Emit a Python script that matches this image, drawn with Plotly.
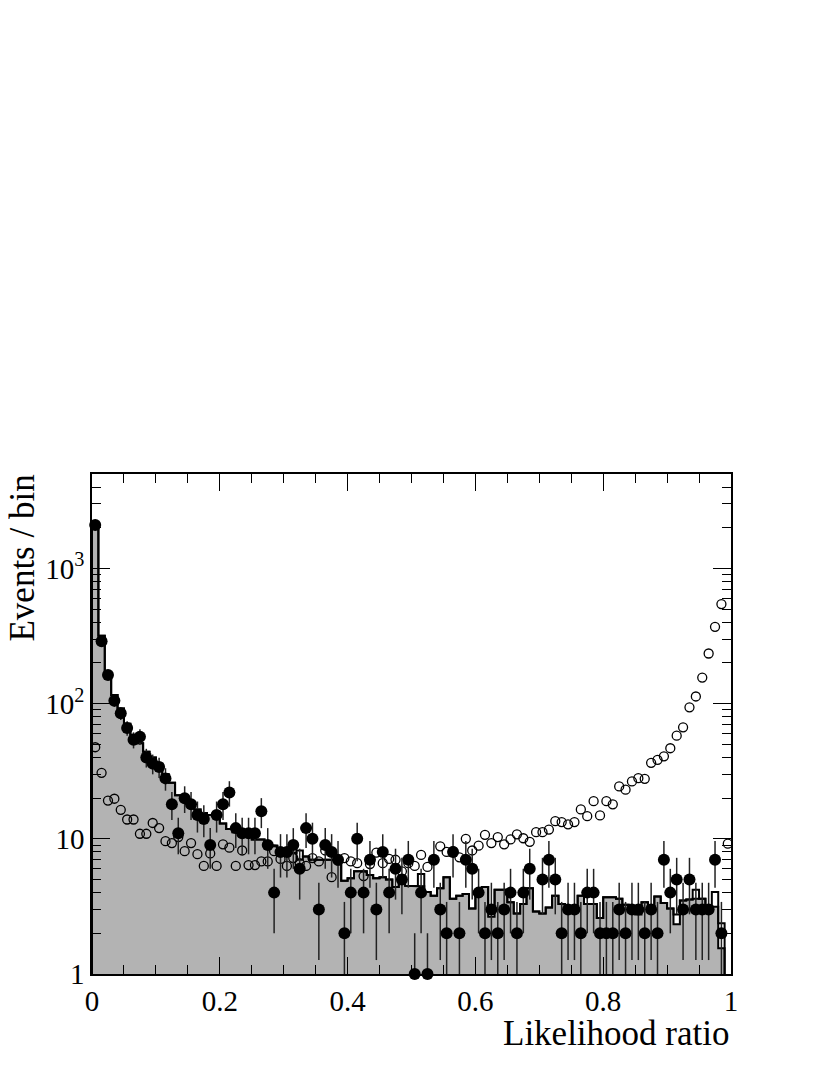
import numpy as np
import plotly.graph_objects as go

# ---- data (100 bins of width 0.01 in likelihood ratio) ----
bin_edges = np.linspace(0.0, 1.0, 101)

data_counts = [2100, 290, 163, 105, 85, 66, 54, 57, 40, 36,
               34, 28, 18, 11, 20, 18, 15, 14, 9, 15,
               18, 22, 12, 11, 11, 11, 16, 9, 4, 8,
               8, 9, 6, 12, 10, 3, 9, 8, 7, 2,
               4, 10, 4, 7, 3, 8, 4, 6, 5, 7,
               1, 4, 1, 7, 3, 2, 8, 2, 7, 6,
               4, 2, 3, 2, 3, 4, 2, 4, 6, 0,
               5, 7, 5, 2, 3, 3, 2, 4, 4, 2,
               2, 2, 3, 2, 3, 3, 2, 3, 2, 7,
               4, 5, 3, 5, 3, 3, 3, 7, 2, 0]

mc_background = [2100, 318, 170, 116, 92, 71, 59, 51, 44, 40,
                 36, 30, 26, 21, 20, 18, 16.5, 15.5, 15, 14.5,
                 13, 11.8, 11.2, 11, 11, 9.9, 9.9, 9.0, 8.9, 8.3,
                 8.3, 7.9, 7.0, 7.4, 7.0, 7.0, 7.0, 7.0, 6.8, 4.9,
                 5.1, 5.75, 5.75, 5.4, 5.1, 5.2, 5.0, 4.4, 4.7, 4.5,
                 4.46, 4.46, 4.05, 3.8, 4.3, 5.2, 3.6, 3.8, 3.9, 3.05,
                 4.17, 4.4, 2.65, 4.2, 4.2, 3.4, 2.8, 3.3, 4.3, 2.9,
                 2.8, 3.1, 3.8, 3.3, 3.1, 2.9, 3.8, 3.3, 3.3, 2.6,
                 3.7, 3.7, 3.6, 3.25, 3.15, 2.75, 3.4, 3.15, 3.75, 3.35,
                 3.05, 2.33, 3.5, 3.55, 3.6, 3.6, 3.15, 3.15, 1.55, 0]

mc_outline = [2100, 318, 170, 116, 92, 71, 59, 51, 44, 40,
              36, 30, 26, 21, 20, 18, 16.5, 15.5, 15, 14.5,
              13, 11.8, 11.2, 11, 11, 9.9, 9.9, 9.0, 8.9, 8.3,
              8.3, 7.9, 8.2, 7.4, 7.0, 7.0, 7.0, 7.0, 6.8, 4.9,
              5.1, 5.75, 5.75, 5.4, 5.1, 5.2, 5.0, 4.4, 4.7, 4.5,
              4.46, 5.5, 4.05, 3.8, 4.3, 5.2, 3.6, 3.8, 3.9, 3.05,
              4.17, 4.4, 3.1, 4.2, 4.2, 3.4, 2.8, 3.3, 4.3, 2.9,
              2.8, 3.1, 3.8, 3.3, 3.1, 3.2, 3.8, 3.3, 3.3, 2.6,
              3.7, 3.7, 3.6, 3.25, 3.15, 3.15, 3.4, 3.15, 3.75, 3.35,
              3.05, 2.75, 3.5, 3.55, 4.2, 3.6, 3.15, 4.05, 2.37, 0]

signal_mc = [47.6, 30.8, 19.2, 19.8, 16.4, 13.9, 13.9, 10.9, 10.9, 13.1,
             12.0, 9.6, 9.3, 10.3, 8.1, 9.3, 7.7, 6.3, 7.8, 6.3,
             9.1, 8.6, 6.3, 8.2, 6.4, 6.4, 6.8, 6.8, 8.1, 7.1,
             6.3, 7.2, 6.6, 6.3, 7.2, 6.8, 8.2, 5.2, 6.9, 7.2,
             6.8, 6.6, 5.3, 6.5, 7.9, 6.6, 7.1, 7.0, 5.75, 6.6,
             6.3, 7.6, 6.2, 7.0, 8.8, 8.0, 8.1, 7.3, 10.0, 8.2,
             8.9, 10.7, 9.3, 10.3, 9.1, 9.9, 10.8, 10.1, 9.5, 11.2,
             11.2, 11.7, 13.5, 13.3, 12.8, 13.3, 16.5, 14.7, 19.0, 14.9,
             19.0, 18.0, 24.4, 23.1, 26.6, 28.1, 27.8, 36.5, 38.4, 40.8,
             46.8, 58, 66.8, 94, 113, 156, 235, 370, 545, 9.2]

x_ticks = [0, 0.2, 0.4, 0.6, 0.8, 1.0]
x_tick_labels = ["0", "0.2", "0.4", "0.6", "0.8", "1"]
y_ticks = [1, 10, 100, 1000]
y_tick_labels = ["1", "10", "10<sup>2</sup>", "10<sup>3</sup>"]

# ---- derived ----
centers = 0.5 * (bin_edges[:-1] + bin_edges[1:])
FLOOR = 1e-2  # below the visible log range


def step_path(values):
    xs, ys = [bin_edges[0]], [FLOOR]
    for i, v in enumerate(values):
        v = v if v > 0 else FLOOR
        xs += [bin_edges[i], bin_edges[i + 1]]
        ys += [v, v]
    xs.append(bin_edges[-1])
    ys.append(FLOOR)
    return xs, ys


fig = go.Figure()

bx, by = step_path(mc_background)
fig.add_trace(go.Scatter(x=bx, y=by, mode="lines", fill="toself",
                         fillcolor="#b3b3b3", line=dict(color="black", width=2),
                         hoverinfo="skip", showlegend=False))
ox, oy = step_path(mc_outline)
fig.add_trace(go.Scatter(x=ox, y=oy, mode="lines",
                         line=dict(color="black", width=2),
                         hoverinfo="skip", showlegend=False))

fig.add_trace(go.Scatter(x=centers, y=signal_mc, mode="markers",
                         marker=dict(symbol="circle-open", size=9, color="black",
                                     line=dict(width=1.3, color="black")),
                         cliponaxis=False, showlegend=False))

dc = np.array(data_counts, dtype=float)
mask = dc > 0
yv = dc[mask]
err_up = np.sqrt(yv)
err_dn = np.minimum(np.sqrt(yv), yv * 0.999)
fig.add_trace(go.Scatter(x=centers[mask], y=yv, mode="markers",
                         marker=dict(size=1, color="rgba(0,0,0,0)"),
                         error_y=dict(type="data", array=err_up, arrayminus=err_dn,
                                      symmetric=False, width=0, thickness=1.5,
                                      color="#222222"),
                         cliponaxis=True, showlegend=False))
fig.add_trace(go.Scatter(x=centers[mask], y=yv, mode="markers",
                         marker=dict(symbol="circle", size=12, color="black"),
                         cliponaxis=False, showlegend=False))

font_family = "Liberation Serif"

fig.update_layout(
    width=830, height=1075,
    margin=dict(l=84, r=107, t=466, b=109),
    paper_bgcolor="white", plot_bgcolor="white",
    font=dict(family=font_family, size=29, color="black"),
    xaxis=dict(range=[0, 1], showgrid=False, zeroline=False,
               showline=True, linecolor="black", linewidth=1.5, mirror="allticks",
               ticks="inside", ticklen=17, tickwidth=1.2, tickcolor="black",
               tickvals=x_ticks, ticktext=x_tick_labels,
               tickfont=dict(family=font_family, size=29),
               minor=dict(ticks="inside", ticklen=9, tickwidth=1.2, tickcolor="black",
                          dtick=0.05, showgrid=False)),
    yaxis=dict(type="log", range=[0, np.log10(5000)], showgrid=False, zeroline=False,
               showline=True, linecolor="black", linewidth=1.5, mirror="allticks",
               ticks="inside", ticklen=18, tickwidth=1.2, tickcolor="black",
               tickvals=y_ticks, ticktext=y_tick_labels,
               tickfont=dict(family=font_family, size=29),
               minor=dict(ticks="inside", ticklen=9, tickwidth=1.2, tickcolor="black",
                          tickvals=[m * 10 ** d for d in range(4) for m in range(2, 10)],
                          showgrid=False)),
    annotations=[
        dict(text="Likelihood ratio", xref="paper", yref="paper", x=1.0, y=-0.118,
             xanchor="right", yanchor="middle", showarrow=False,
             font=dict(family=font_family, size=35)),
        dict(text="Events / bin", xref="paper", yref="paper", x=-0.1095, y=1.002,
             xanchor="center", yanchor="top", textangle=-90, showarrow=False,
             font=dict(family=font_family, size=35)),
    ],
)

fig.write_html("out.html")
